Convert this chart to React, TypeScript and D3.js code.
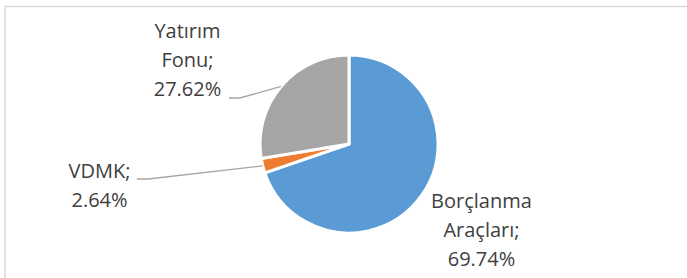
import { useEffect, useRef } from 'react';
import * as d3 from 'd3';

const categories = ['Borçlanma Araçları', 'VDMK', 'Yatırım Fonu'];
const shares = [69.74, 2.64, 27.62];
const colors = ['#5B9BD5', '#ED7D31', '#A5A5A5'];
const labelLines = [
  ['Borçlanma', 'Araçları;', '69.74%'],
  ['VDMK;', '2.64%'],
  ['Yatırım', 'Fonu;', '27.62%'],
];

const W = 687;
const H = 278;

export default function App() {
  const svgRef = useRef<SVGSVGElement>(null);

  useEffect(() => {
    if (!svgRef.current) return;
    const svg = d3.select(svgRef.current);
    svg.selectAll('*').remove();

    // chart frame (runs off the right / bottom of the crop)
    svg.append('rect')
      .attr('x', 5)
      .attr('y', 6.5)
      .attr('width', W + 10)
      .attr('height', H + 10)
      .style('fill', 'none')
      .style('stroke', '#d9d9d9')
      .style('stroke-width', 1.5);

    const cx = 349;
    const cy = 144;
    const radius = 89;

    const pie = d3.pie<number>().sort(null).value((d) => d);
    const arcs = pie(shares);
    const arc = d3.arc<d3.PieArcDatum<number>>().innerRadius(0).outerRadius(radius);
    const edge = d3.arc<d3.PieArcDatum<number>>().innerRadius(radius).outerRadius(radius);

    const g = svg.append('g').attr('transform', `translate(${cx},${cy})`);

    g.selectAll('path.slice')
      .data(arcs)
      .enter()
      .append('path')
      .attr('class', 'slice')
      .attr('d', arc)
      .style('fill', (_d, i) => colors[i])
      .style('stroke', '#fff')
      .style('stroke-width', 3)
      .style('stroke-linejoin', 'round');

    // leader lines: slice edge -> elbow -> end near text (absolute coords)
    const leaders: Record<number, [number, number][]> = {
      1: [[148, 179], [137, 179]],
      2: [[240, 98], [229, 98]],
    };
    Object.entries(leaders).forEach(([k, pts]) => {
      const i = Number(k);
      const [ex, ey] = edge.centroid(arcs[i]);
      const line = d3.line();
      svg.append('path')
        .attr('d', line([[cx + ex, cy + ey], ...pts]))
        .style('fill', 'none')
        .style('stroke', '#a6a6a6')
        .style('stroke-width', 1.3);
    });

    // data labels
    const labelPos: [number, number][] = [
      [481.5, 208],
      [99.5, 178],
      [187.5, 38],
    ];
    labelLines.forEach((lines, i) => {
      const t = svg.append('text')
        .attr('text-anchor', 'middle')
        .style('font-family', '"Open Sans", sans-serif')
        .style('font-size', '20px')
        .style('fill', '#404040')
        .attr('aria-label', `${categories[i]}; ${shares[i]}%`);
      lines.forEach((s, j) => {
        t.append('tspan')
          .attr('x', labelPos[i][0])
          .attr('y', labelPos[i][1] + j * 29)
          .text(s);
      });
    });
  }, []);

  return (
    <div style={{ position: 'fixed', left: 0, top: 0, width: W, height: H, background: '#fff' }}>
      <svg ref={svgRef} width={W} height={H} style={{ display: 'block' }} />
    </div>
  );
}
